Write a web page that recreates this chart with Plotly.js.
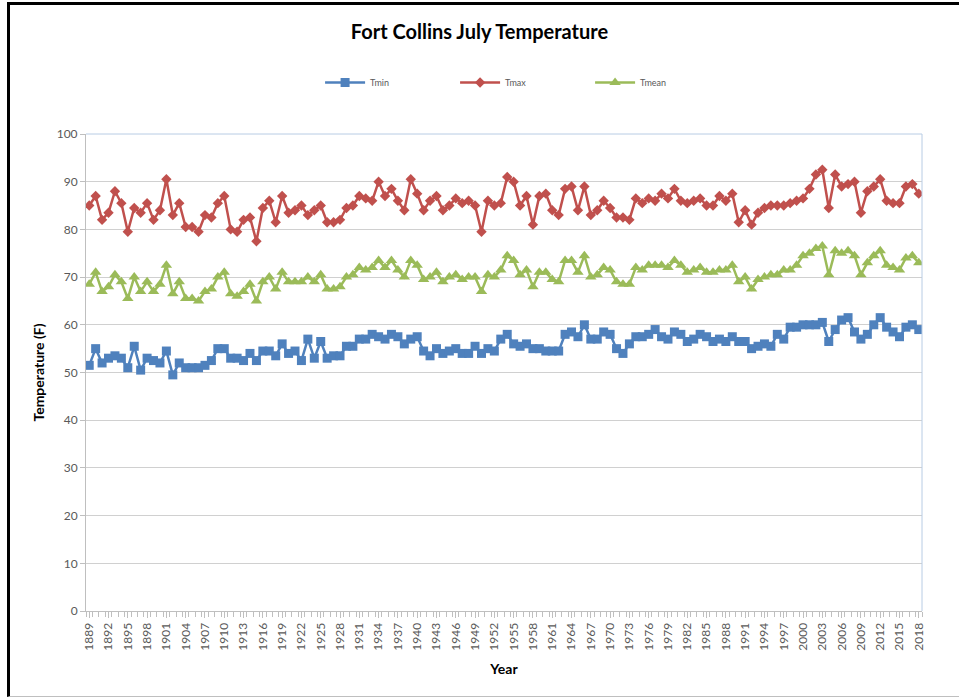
<!DOCTYPE html>
<html>
<head>
<meta charset="utf-8">
<script src="https://cdn.plot.ly/plotly-3.0.1.min.js"></script>
<style>
html,body{margin:0;padding:0;background:#fff;}
#wrap{position:relative;width:959px;height:700px;}
#chart{width:959px;height:700px;}
#frame{position:absolute;left:7px;top:2px;width:960px;height:695px;border-left:3px solid #000;border-top:3px solid #000;border-bottom:1px solid #bfbfbf;pointer-events:none;box-sizing:border-box;}
</style>
</head>
<body>
<div id="wrap"><div id="chart"></div><div id="frame"></div></div>
<script>
const years = [];
for (let y = 1889; y <= 2018; y++) years.push(y);

const tmin = [
 51.5,55,52,53,53.5,53,51,55.5,50.5,53,     // 1889-1898
 52.5,52,54.5,49.5,52,51,51,51,51.5,52.5,   // 1899-1908
 55,55,53,53,52.5,54,52.5,54.5,54.5,53.5,   // 1909-1918
 56,54,54.5,52.5,57,53,56.5,53,53.5,53.5,   // 1919-1928
 55.5,55.5,57,57,58,57.5,57,58,57.5,56,     // 1929-1938
 57,57.5,54.5,53.5,55,54,54.5,55,54,54,     // 1939-1948
 55.5,54,55,54.5,57,58,56,55.5,56,55,       // 1949-1958
 55,54.5,54.5,54.5,58,58.5,57.5,60,57,57,   // 1959-1968
 58.5,58,55,54,56,57.5,57.5,58,59,57.5,     // 1969-1978
 57,58.5,58,56.5,57,58,57.5,56.5,57,56.5,   // 1979-1988
 57.5,56.5,56.5,55,55.5,56,55.5,58,57,59.5, // 1989-1998
 59.5,60,60,60,60.5,56.5,59,61,61.5,58.5,   // 1999-2008
 57,58,60,61.5,59.5,58.5,57.5,59.5,60,59    // 2009-2018
];
const tmax = [
 85,87,82,83.5,88,85.5,79.5,84.5,83.5,85.5,
 82,84,90.5,83,85.5,80.5,80.5,79.5,83,82.5,
 85.5,87,80,79.5,82,82.5,77.5,84.5,86,81.5,
 87,83.5,84,85,83,84,85,81.5,81.5,82,
 84.5,85,87,86.5,86,90,87,88.5,86,84,
 90.5,87.5,84,86,87,84,85,86.5,85.5,86,
 85,79.5,86,85,85.5,91,90,85,87,81,
 87,87.5,84,83,88.5,89,84,89,83,84,
 86,84.5,82.5,82.5,82,86.5,85.5,86.5,86,87.5,
 86.5,88.5,86,85.5,86,86.5,85,85,87,86,
 87.5,81.5,84,81,83.5,84.5,85,85,85,85.5,
 86,86.5,88.5,91.5,92.5,84.5,91.5,89,89.5,90,
 83.5,88,89,90.5,86,85.5,85.5,89,89.5,87.5
];
const tmean = [
 68.5,71,67,68,70.5,69,65.5,70,67,69,
 67,68.5,72.5,66.5,69,65.5,65.5,65,67,67.5,
 70,71,66.5,66,67,68.5,65,69,70,67.5,
 71,69,69,69,70,69,70.5,67.5,67.5,68,
 70,70.5,72,71.5,72,73.5,72,73.5,71.5,70,
 73.5,72.5,69.5,70,71,69,70,70.5,69.5,70,
 70,67,70.5,70,71.5,74.5,73.5,70.5,71.5,68,
 71,71,69.5,69,73.5,73.5,71,74.5,70,70.5,
 72,71.5,69,68.5,68.5,72,71.5,72.5,72.5,72.5,
 72,73.5,72.5,71,71.5,72,71,71,71.5,71.5,
 72.5,69,70,67.5,69.5,70,70.5,70.5,71.5,71.5,
 72.5,74.5,75,76,76.5,70.5,75.5,75,75.5,74.5,
 70.5,73,74.5,75.5,72.5,72,71.5,74,74.5,73
];
const seriesNames = ['Tmin','Tmax','Tmean'];
const colors = ['#4F81BD','#C0504D','#9BBB59'];
const yTicks = [0,10,20,30,40,50,60,70,80,90,100];
const xTickYears = [];
for (let y = 1889; y <= 2018; y += 3) xTickYears.push(y);

const traces = [
 {x: years, y: tmin, name: seriesNames[0], type:'scatter', mode:'lines+markers',
  line:{color:colors[0], width:2.5}, marker:{symbol:'square', size:9, color:colors[0]}},
 {x: years, y: tmax, name: seriesNames[1], type:'scatter', mode:'lines+markers',
  line:{color:colors[1], width:2.5}, marker:{symbol:'diamond', size:8, color:colors[1]}},
 {x: years, y: tmean, name: seriesNames[2], type:'scatter', mode:'lines+markers',
  line:{color:colors[2], width:2.5}, marker:{symbol:'triangle-up', size:10, color:colors[2]}}
];

const layout = {
 width:959, height:700,
 margin:{l:86, r:37, t:134, b:89},
 paper_bgcolor:'#fff', plot_bgcolor:'#fff',
 font:{family:'Lato, "Open Sans", sans-serif', color:'#595959'},
 title:{text:'<b>Fort Collins July Temperature</b>', x:0.5, xanchor:'center', y:0.955, yanchor:'middle',
  font:{size:20, color:'#000', family:'Lato, "Open Sans", sans-serif'}},
 showlegend:true,
 legend:{orientation:'h', x:0.28, xanchor:'left', y:1.108, yanchor:'middle',
  font:{size:9, color:'#595959'}, entrywidth:80, entrywidthmode:'pixels', itemwidth:40},
 xaxis:{range:[1888.5, 2018.5], tickmode:'array', tickvals:xTickYears, ticktext:xTickYears.map(String),
  tickangle:-90, tickfont:{size:12, color:'#595959'}, showgrid:false, zeroline:false,
  showline:true, linecolor:'#bfbfbf', linewidth:1, ticks:'outside', ticklen:6, tickcolor:'#bfbfbf',
  minor:{dtick:1, tick0:1888.5, ticks:'outside', ticklen:5, tickcolor:'#bfbfbf', showgrid:false},
  title:{text:'<b>Year</b>', font:{size:14, color:'#000'}, standoff:14}},
 yaxis:{range:[0,100], tickvals:yTicks, tickfont:{size:12, color:'#595959'},
  showgrid:true, gridcolor:'#d0d0d0', gridwidth:1, zeroline:false,
  showline:true, linecolor:'#bfbfbf', linewidth:1, ticks:'outside', ticklen:5, tickcolor:'#bfbfbf',
  title:{text:'<b>Temperature (F)</b>', font:{size:14, color:'#000'}, standoff:8}},
 shapes:[
  {type:'line', xref:'paper', yref:'paper', x0:0, x1:1, y0:1, y1:1, line:{color:'#b8cce4', width:1}},
  {type:'line', xref:'paper', yref:'paper', x0:1, x1:1, y0:0, y1:1, line:{color:'#b8cce4', width:1}}
 ]
};
Plotly.newPlot('chart', traces, layout, {displayModeBar:false, staticPlot:true});
</script>
</body>
</html>
